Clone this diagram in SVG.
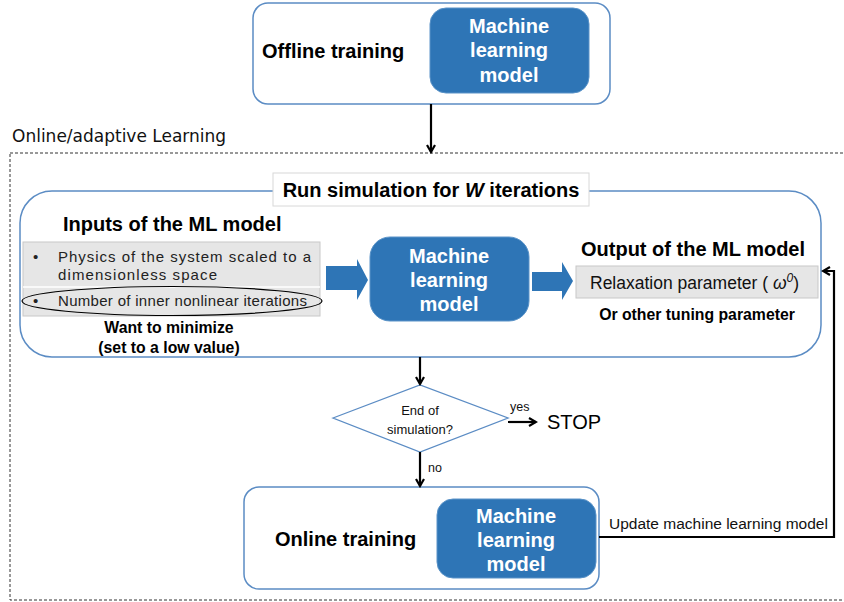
<svg xmlns="http://www.w3.org/2000/svg" width="844" height="602" viewBox="0 0 844 602">
<defs>
<style>
.frame{fill:#fff;stroke:#5b8cc4;stroke-width:1.5}
.ml{fill:#2e75b6;stroke:#5a93c8;stroke-width:1}
.mlt{font-family:"Liberation Sans",Arial,sans-serif;font-weight:bold;font-size:20px;fill:#fff;text-anchor:middle}
.bt{font-family:"Liberation Sans",Arial,sans-serif;font-weight:bold;font-size:20px;fill:#000}
.sb{font-family:"Liberation Sans",Arial,sans-serif;font-weight:bold;font-size:15.8px;fill:#000;text-anchor:middle}
.nt{font-family:"Liberation Sans",Arial,sans-serif;font-size:15px;fill:#222}
.gray{fill:#e6e6e6;stroke:#c8c8c8;stroke-width:1}
.ln{fill:none;stroke:#000;stroke-width:2.2}
.blk{fill:#2e75b6}
.sm{font-family:"Liberation Sans",Arial,sans-serif;fill:#111}
</style>
<marker id="ah" markerWidth="10" markerHeight="10" refX="8" refY="5" orient="auto" markerUnits="userSpaceOnUse">
<path d="M1,1 L8,5 L1,9" fill="none" stroke="#000" stroke-width="2.2"/>
</marker>
</defs>
<rect width="844" height="602" fill="#fff"/>

<g id="online-region">
<rect x="10" y="153" width="840" height="447" fill="none" stroke="#333" stroke-width="1" stroke-dasharray="3,2"/>
<text x="12" y="142" font-family="DejaVu Sans,sans-serif" font-size="17px" fill="#111">Online/adaptive Learning</text>
</g>

<g id="offline">
<rect class="frame" x="253" y="3" width="357" height="101" rx="15"/>
<text class="bt" x="262" y="58">Offline training</text>
<rect class="ml" x="430" y="8" width="159" height="85" rx="16"/>
<text class="mlt" x="509" y="33">Machine</text>
<text class="mlt" x="509" y="57">learning</text>
<text class="mlt" x="509" y="82">model</text>
</g>

<g id="simulation">
<rect class="frame" x="20" y="191" width="801" height="166" rx="32"/>
<rect x="273" y="173" width="316" height="33" fill="#fff" stroke="#d8d8d8" stroke-width="1"/>
<text class="bt" x="431" y="197" text-anchor="middle">Run simulation for <tspan font-style="italic">W</tspan> iterations</text>
</g>

<g id="inputs">
<text class="bt" x="63" y="231">Inputs of the ML model</text>
<rect class="gray" x="23" y="242" width="297" height="74"/>
<line x1="23" y1="287" x2="320" y2="287" stroke="#fff" stroke-width="1.5"/>
<text class="nt" x="33" y="262">•</text>
<text class="nt" x="58" y="262" textLength="253" lengthAdjust="spacing">Physics of the system scaled to a</text>
<text class="nt" x="58" y="280" textLength="159" lengthAdjust="spacing">dimensionless space</text>
<text class="nt" x="33" y="306">•</text>
<text class="nt" x="58" y="306" textLength="249" lengthAdjust="spacing">Number of inner nonlinear iterations</text>
<ellipse cx="172" cy="301" rx="150" ry="14.5" fill="none" stroke="#000" stroke-width="1.2"/>
<text class="sb" x="169" y="333">Want to minimize</text>
<text class="sb" x="169" y="353">(set to a low value)</text>
</g>

<g id="ml-center">
<rect class="ml" x="370" y="237" width="159" height="84" rx="20"/>
<text class="mlt" x="449" y="263">Machine</text>
<text class="mlt" x="449" y="287">learning</text>
<text class="mlt" x="449" y="311">model</text>
</g>

<g id="output">
<text class="bt" x="581" y="256">Output of the ML model</text>
<rect class="gray" x="576" y="266" width="242" height="32"/>
<text class="sm" x="590" y="289" font-size="17.5px">Relaxation parameter ( <tspan font-style="italic">ω</tspan><tspan font-style="italic" font-size="12px" dy="-7">0</tspan><tspan dy="7">)</tspan></text>
<text class="sb" x="697" y="320">Or other tuning parameter</text>
</g>

<g id="decision">
<polygon points="333,418 420,385 508,418 420,452" fill="#fff" stroke="#5b8cc4" stroke-width="1.3"/>
<text class="sm" x="420" y="415" font-size="13px" text-anchor="middle">End of</text>
<text class="sm" x="420" y="434" font-size="13px" text-anchor="middle">simulation?</text>
</g>

<g id="stop">
<text x="547" y="429" font-family="Liberation Sans,Arial,sans-serif" font-size="20px" fill="#000">STOP</text>
</g>

<g id="online-training">
<rect class="frame" x="244" y="487" width="355" height="102" rx="15"/>
<text class="bt" x="275" y="546">Online training</text>
<rect class="ml" x="437" y="499" width="159" height="79" rx="16"/>
<text class="mlt" x="516" y="523">Machine</text>
<text class="mlt" x="516" y="547">learning</text>
<text class="mlt" x="516" y="571">model</text>
</g>

<g id="connectors">
<line class="ln" x1="431" y1="104" x2="431" y2="152" marker-end="url(#ah)"/>
<path class="blk" d="M326,266 H357 V259 L368,280 L357,300 V290 H326 Z"/>
<path class="blk" d="M532,272 H562 V262 L573,281 L562,300 V291 H532 Z"/>
<line class="ln" x1="420" y1="357" x2="420" y2="384" marker-end="url(#ah)"/>
<line class="ln" x1="508" y1="422" x2="536" y2="422" marker-end="url(#ah)"/>
<text class="sm" x="510" y="411" font-size="12.5px">yes</text>
<line class="ln" x1="420" y1="452" x2="420" y2="486" marker-end="url(#ah)"/>
<text class="sm" x="428" y="472" font-size="12.5px">no</text>
<polyline class="ln" points="599,537 834,537 834,271 823,271" marker-end="url(#ah)"/>
<text class="sm" x="609" y="529" font-size="15.5px">Update machine learning model</text>
</g>
</svg>
